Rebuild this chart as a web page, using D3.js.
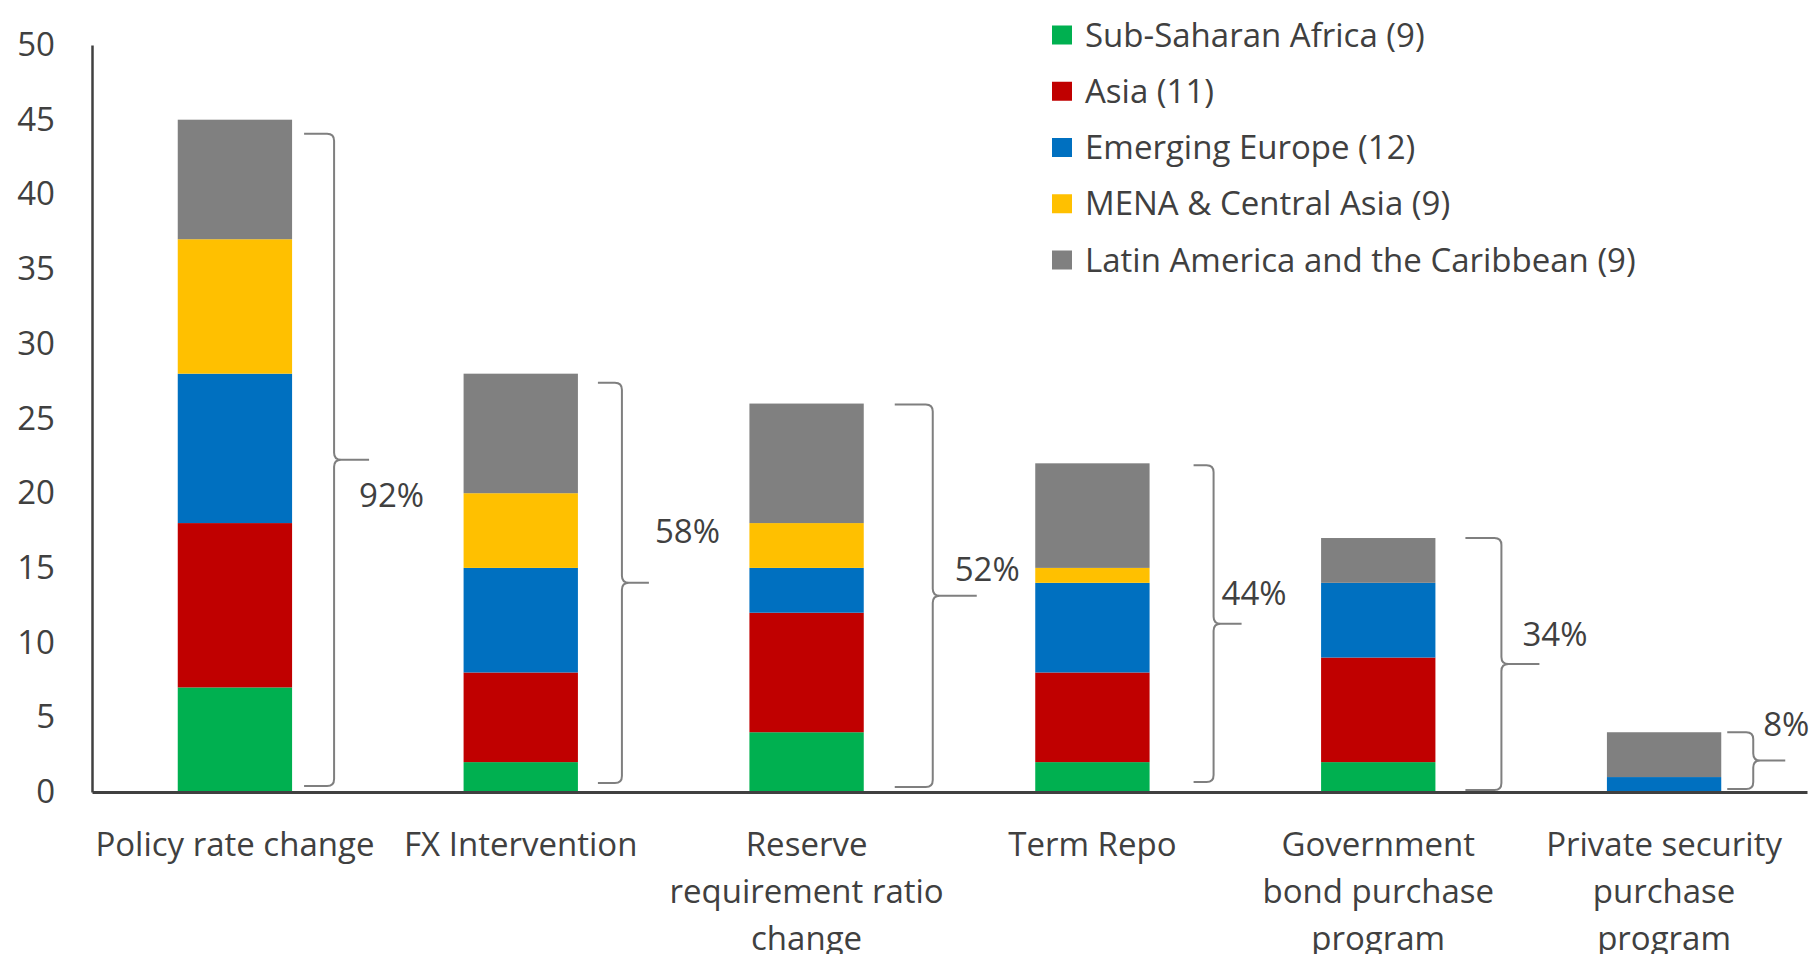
<!DOCTYPE html>
<html>
<head>
<meta charset="utf-8">
<script src="https://cdn.jsdelivr.net/npm/d3@7"></script>
<style>
  body { margin: 0; background: #fff; }
  svg text { font-family: "Open Sans", sans-serif; fill: #404040; }
</style>
</head>
<body>
<svg id="chart"></svg>
<script>
// data
const categories = [
  'Policy rate change',
  'FX Intervention',
  'Reserve\nrequirement ratio\nchange',
  'Term Repo',
  'Government\nbond purchase\nprogram',
  'Private security\npurchase\nprogram'
];
const regions = [
  'Sub-Saharan Africa (9)',
  'Asia (11)',
  'Emerging Europe (12)',
  'MENA & Central Asia (9)',
  'Latin America and the Caribbean (9)'
];
const subSaharan = [7, 2, 4, 2, 2, 0];
const asia       = [11, 6, 8, 6, 7, 0];
const emEurope   = [10, 7, 3, 6, 5, 1];
const menaCA     = [9, 5, 3, 1, 0, 0];
const latAm      = [8, 8, 8, 7, 3, 3];
const shareLabels = ['92%', '58%', '52%', '44%', '34%', '8%'];
const yTicks = [0, 5, 10, 15, 20, 25, 30, 35, 40, 45, 50];

const colors = ['#00b050', '#c00000', '#0070c0', '#ffc000', '#808080'];

// brace layout, px relative to bar right edge / brace middle
const braceLayout = [
  {start: 12, spine: 42, tip: 77,  top: 14, bot: 6,  lx: 67, ly: 47},
  {start: 20, spine: 44, tip: 71,  top: 9,  bot: 9,  lx: 77, ly: -40},
  {start: 31, spine: 69, tip: 113, top: 1,  bot: 5,  lx: 91, ly: -15},
  {start: 44, spine: 64, tip: 92,  top: 2,  bot: 10, lx: 72, ly: -19},
  {start: 30, spine: 66, tip: 104, top: 0,  bot: 2,  lx: 87, ly: -18},
  {start: 6,  spine: 32, tip: 64,  top: 0,  bot: 3,  lx: 42, ly: -25}
];

const W = 1813, H = 954;
const svg = d3.select('#chart').attr('width', W).attr('height', H);
const fontSize = 33;

const rows = categories.map((c, i) => ({
  cat: c,
  v: [subSaharan[i], asia[i], emEurope[i], menaCA[i], latAm[i]]
}));
const keys = [0, 1, 2, 3, 4];
const stack = d3.stack().keys(keys).value((d, k) => d.v[k])(rows);

const x = d3.scaleBand()
  .domain(categories)
  .range([92, 1807])
  .paddingInner(0.6)
  .paddingOuter(0.3);

const y = d3.scaleLinear()
  .domain([0, 50])
  .range([792, 45]);

// bars
svg.append('g').selectAll('g')
  .data(stack)
  .join('g')
  .attr('fill', (d, i) => colors[i])
  .selectAll('rect')
  .data(d => d)
  .join('rect')
  .attr('x', d => x(d.data.cat))
  .attr('width', x.bandwidth())
  .attr('y', d => y(d[1]))
  .attr('height', d => y(d[0]) - y(d[1]));

// y axis
const yAxis = svg.append('g')
  .attr('transform', 'translate(' + x.range()[0] + ',0)')
  .call(d3.axisLeft(y).tickValues(yTicks).tickSize(0).tickPadding(37));
yAxis.select('.domain').attr('stroke', '#404040').attr('stroke-width', 2.5);
yAxis.selectAll('text')
  .style('font-size', fontSize + 'px')
  .attr('fill', '#404040')
  .style('font-family', '"Open Sans", sans-serif');

// x axis
const xAxis = svg.append('g')
  .attr('transform', 'translate(0,' + y(0) + ')')
  .call(d3.axisBottom(x).tickSize(0).tickFormat(''));
xAxis.select('.domain').attr('stroke', '#404040').attr('stroke-width', 3);

const xLab = svg.append('g').selectAll('text')
  .data(categories)
  .join('text')
  .attr('text-anchor', 'middle')
  .style('font-size', fontSize + 'px')
  .attr('transform', d => 'translate(' + (x(d) + x.bandwidth() / 2) + ',856)');
xLab.selectAll('tspan')
  .data(d => d.split('\n'))
  .join('tspan')
  .attr('x', 0)
  .attr('y', (d, i) => i * 47)
  .text(d => d);

// braces
const totals = rows.map(r => d3.sum(r.v));
const braces = svg.append('g');
categories.forEach((c, i) => {
  const L = braceLayout[i];
  const x1 = x(c) + x.bandwidth();
  const top = y(totals[i]) + L.top;
  const bot = y(0) - L.bot;
  const mid = (top + bot) / 2;
  const x0 = x1 + L.start, xs = x1 + L.spine, xt = x1 + L.tip;
  const r = 7;
  const p = d3.path();
  p.moveTo(x0, top);
  p.lineTo(xs - r, top);
  p.quadraticCurveTo(xs, top, xs, top + r);
  p.lineTo(xs, mid - r);
  p.quadraticCurveTo(xs, mid, xs + r, mid);
  p.lineTo(xt, mid);
  p.moveTo(xs + r, mid);
  p.quadraticCurveTo(xs, mid, xs, mid + r);
  p.lineTo(xs, bot - r);
  p.quadraticCurveTo(xs, bot, xs - r, bot);
  p.lineTo(x0, bot);
  braces.append('path')
    .attr('d', p.toString())
    .attr('fill', 'none')
    .attr('stroke', '#7f7f7f')
    .attr('stroke-width', 2);
  braces.append('text')
    .attr('x', x1 + L.lx)
    .attr('y', mid + L.ly)
    .style('font-size', fontSize + 'px')
    .text(shareLabels[i]);
});

// legend
const legend = svg.append('g').attr('transform', 'translate(1052,0)');
const ly = d3.scalePoint().domain(regions).range([35, 260]);
legend.selectAll('rect')
  .data(regions)
  .join('rect')
  .attr('x', 0)
  .attr('y', d => ly(d) - 9.5)
  .attr('width', 20)
  .attr('height', 19)
  .attr('fill', (d, i) => colors[i]);
legend.selectAll('text')
  .data(regions)
  .join('text')
  .attr('x', 33)
  .attr('y', d => ly(d))
  .attr('dy', '0.35em')
  .style('font-size', fontSize + 'px')
  .text(d => d);
</script>
</body>
</html>
